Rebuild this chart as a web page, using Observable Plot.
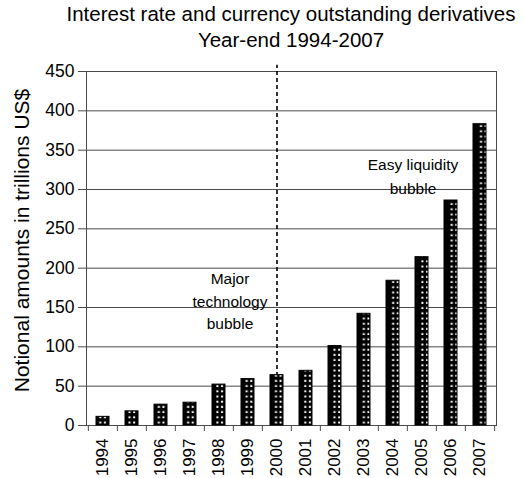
<!DOCTYPE html>
<html>
<head>
<meta charset="utf-8">
<script src="https://cdn.jsdelivr.net/npm/d3@7"></script>
<script src="https://cdn.jsdelivr.net/npm/@observablehq/plot@0.6"></script>
<style>
  html, body { margin: 0; padding: 0; background: #fff; }
  #title { box-sizing: border-box; height: 56px; padding-top: 1px; margin-left: 44px; width: 494px;
           text-align: center; font-family: "Liberation Sans", Arial, sans-serif; font-size: 20.5px;
           line-height: 26px; color: #000; white-space: nowrap; }
  svg { display: block; }
</style>
</head>
<body>
<div id="title">Interest rate and currency outstanding derivatives<br>Year-end 1994-2007</div>
<div id="chart"></div>
<script>
const years = ["1994","1995","1996","1997","1998","1999","2000","2001","2002","2003","2004","2005","2006","2007"];
const values = [11, 18, 26.5, 29, 52, 59, 64, 69.5, 101, 142, 184, 214, 286, 383];
const yTicks = [0, 50, 100, 150, 200, 250, 300, 350, 400, 450];
const yLabel = "Notional amounts in trillions US$";
const note1 = "Major\ntechnology\nbubble";
const note2 = "Easy liquidity\nbubble";

const data = years.map((y, i) => ({year: y, value: values[i]}));

const W = 524, H = 422, mL = 86, mR = 28, mT = 15, mB = 53;
const step = (W - mL - mR) / years.length;
const gray = "#4a4a4a";

const plot = Plot.plot({
  width: W, height: H,
  marginLeft: mL, marginRight: mR, marginTop: mT, marginBottom: mB,
  style: {fontFamily: "Liberation Sans, Arial, sans-serif", fontSize: "17px", color: "#000", background: "#fff"},
  x: {domain: years, paddingInner: 0.54, paddingOuter: 0.27, label: null},
  y: {domain: [0, 450], label: null},
  marks: [
    Plot.gridY(yTicks, {stroke: gray, strokeOpacity: 1}),
    Plot.frame({stroke: gray}),
    Plot.axisY(yTicks, {tickSize: 8, stroke: gray, tickPadding: 4, fontSize: 17.5, label: null}),
    Plot.axisX({tickSize: 0, tickRotate: -90, tickPadding: 13, fontSize: 17, label: null}),
    Plot.axisX({text: null, tickSize: 6, stroke: gray, dx: -step / 2, label: null}),
    Plot.axisX(["2007"], {text: null, tickSize: 6, stroke: gray, dx: step / 2, label: null}),
    Plot.ruleX(["2000"], {y1: 0, y2: 458, stroke: "#000", strokeWidth: 1.6, strokeDasharray: "4,3"}),
    Plot.barY(data, {x: "year", y: "value", fill: "url(#dots)", stroke: "#000", strokeWidth: 1}),
    Plot.text([yLabel], {text: d => d, frameAnchor: "left", textAnchor: "middle", rotate: -90, dx: -64, dy: -8, fontSize: 21}),
    Plot.text([note1], {text: d => d, x: () => "1999", y: () => 200, dx: -18, lineAnchor: "top", lineHeight: 1.45, fontSize: 15.5}),
    Plot.text([note2], {text: d => d, x: () => "2005", y: () => 346, dx: -9, lineAnchor: "top", lineHeight: 1.53, fontSize: 15.5})
  ]
});

// pattern of white squares on black, aligned to the bars
const sx = plot.scale("x");
const bw = sx.bandwidth;
const x0 = sx.apply(years[0]);
const s = bw / 13.5;
const ns = "http://www.w3.org/2000/svg";
const defs = document.createElementNS(ns, "defs");
const pat = document.createElementNS(ns, "pattern");
pat.setAttribute("id", "dots");
pat.setAttribute("patternUnits", "userSpaceOnUse");
pat.setAttribute("x", x0);
pat.setAttribute("y", 0);
pat.setAttribute("width", step);
pat.setAttribute("height", 5.2);
const bg = document.createElementNS(ns, "rect");
bg.setAttribute("width", step); bg.setAttribute("height", 5.2); bg.setAttribute("fill", "#000");
pat.appendChild(bg);
for (const cx of [3.4, 8.2]) {
  const r = document.createElementNS(ns, "rect");
  r.setAttribute("x", cx * s); r.setAttribute("y", 1.5);
  r.setAttribute("width", 2); r.setAttribute("height", 2);
  r.setAttribute("fill", "#fff");
  pat.appendChild(r);
}
defs.appendChild(pat);
plot.insertBefore(defs, plot.firstChild);

document.getElementById("chart").appendChild(plot);
</script>
</body>
</html>
